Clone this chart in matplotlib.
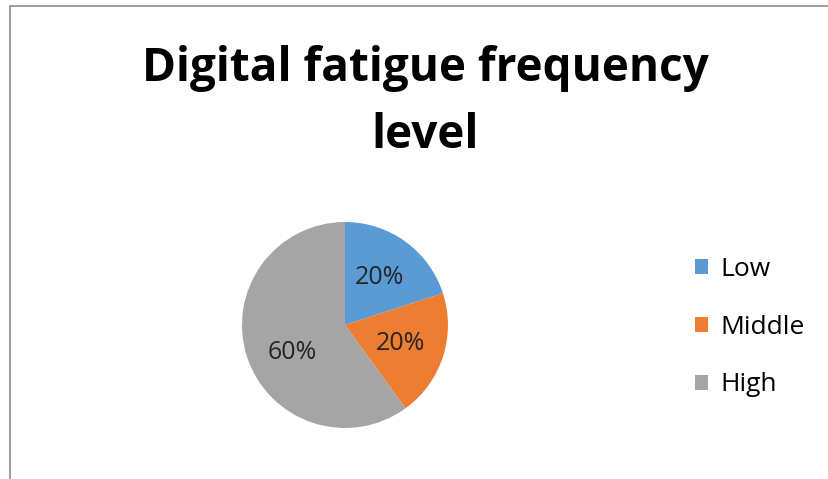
import matplotlib.pyplot as plt
from matplotlib.lines import Line2D
from matplotlib.patches import Patch
import numpy as np

categories = ["Low", "Middle", "High"]
values = [20, 20, 60]
colors = ["#5B9BD5", "#ED7D31", "#A5A5A5"]
title = "Digital fatigue frequency\nlevel"

plt.rcParams["font.family"] = ["Open Sans", "DejaVu Sans"]

fig = plt.figure(figsize=(8.29, 4.79), dpi=100)

# chart area border (left and top edges visible in the crop)
bx, by = 10 / 829, 1 - 6 / 479
fig.add_artist(Line2D([bx, bx, 1], [0, by, by], color="#8c8c8c", lw=1.2,
                      transform=fig.transFigure))

fig.text(0.513, 1 - 102 / 479, title, ha="center", va="center",
         fontsize=33, fontweight="bold", linespacing=1.55)

ax = fig.add_axes([0.2919, 0.1065, 0.2485, 0.430])
wedges, texts, autotexts = ax.pie(
    values, colors=colors, startangle=90, counterclock=False,
    autopct="%1.0f%%", pctdistance=0.57,
    textprops=dict(fontsize=18, color="#262626"))
ax.set_xlim(-1, 1)
ax.set_ylim(-1, 1)
ax.set_aspect("equal")

# Excel puts the big slice label below the centre line
ang = np.deg2rad(207)
autotexts[2].set_position((0.58 * np.cos(ang), 0.58 * np.sin(ang)))

handles = [Patch(facecolor=c, edgecolor="none") for c in colors]
fig.legend(handles, categories, loc="center left",
           bbox_to_anchor=(0.810, 1 - 327 / 479), frameon=False,
           fontsize=19, handlelength=0.5, handleheight=0.5,
           handletextpad=0.45, labelspacing=1.25)

plt.savefig("out.png", dpi=100)
plt.close()
